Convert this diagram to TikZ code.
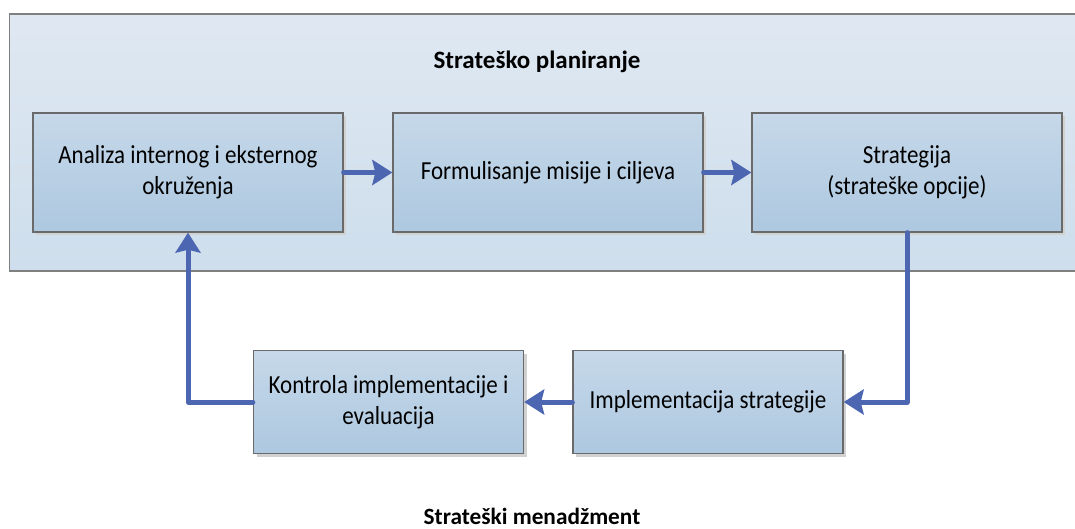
\documentclass[tikz,border=0pt]{standalone}
\usepackage{fontspec}
\setmainfont{Carlito}
\newfontfamily\boxfont[FakeStretch=0.885]{Carlito}
\usetikzlibrary{arrows.meta,shadows}
\definecolor{framefill top}{HTML}{DFE8F2}
\definecolor{framefill bot}{HTML}{CEDEEC}
\definecolor{boxfill top}{HTML}{C6D8E9}
\definecolor{boxfill bot}{HTML}{ADC8E0}
\definecolor{boxline}{HTML}{6A6A6A}
\definecolor{frameline}{HTML}{808080}
\definecolor{flow}{HTML}{4C66B2}
\tikzset{
  stagebox/.style={draw=boxline, line width=1.3pt, top color=boxfill top,
    bottom color=boxfill bot, minimum width=310pt, minimum height=119pt,
    align=center, font=\boxfont\fontsize{26}{31}\selectfont, inner sep=0pt,
    drop shadow={shadow xshift=3pt, shadow yshift=-3pt, fill=black!18, opacity=1}},
  lowbox/.style={stagebox, minimum width=270pt, minimum height=103pt},
  flowarrow/.style={draw=flow, line width=5pt, line cap=round, line join=round,
    -{Stealth[length=20pt, width=25pt, inset=3pt]}},
  heading/.style={font=\bfseries}
}
\begin{document}
\begin{tikzpicture}[x=1pt, y=-1pt]
  \useasboundingbox (0,0) rectangle (1075,528);
  % planning frame, open on the right
  \fill[top color=framefill top, bottom color=framefill bot] (9.5,14) rectangle (1075,271);
  \draw[frameline, line width=1.5pt] (1075,14) -- (9.5,14) -- (9.5,271) -- (1075,271);
  \node[heading, font=\fontsize{25}{30}\selectfont\bfseries] (title) at (537,62) {Strateško planiranje};

  \node[stagebox] (analiza) at (188,172.5) {Analiza internog i eksternog\\okruženja};
  \node[stagebox] (misija) at (548,172.5) {Formulisanje misije i ciljeva};
  \node[stagebox] (strategija) at (907,172.5) {Strategija\\(strateške opcije)};
  \node[lowbox] (kontrola) at (388.5,402) {Kontrola implementacije i\\evaluacija};
  \node[lowbox] (impl) at (708,402) {Implementacija strategije};

  \node[heading, font=\fontsize{23.3}{28}\selectfont\bfseries] (footer) at (532,516) {Strateški menadžment};

  \draw[flowarrow] (analiza.east) -- (misija.west);
  \draw[flowarrow] (misija.east) -- (strategija.west);
  \draw[flowarrow] (strategija.south) |- (impl.east);
  \draw[flowarrow] (impl.west) -- (kontrola.west -| kontrola.east);
  \draw[flowarrow] (kontrola.west) -| (analiza.south);
\end{tikzpicture}
\end{document}
